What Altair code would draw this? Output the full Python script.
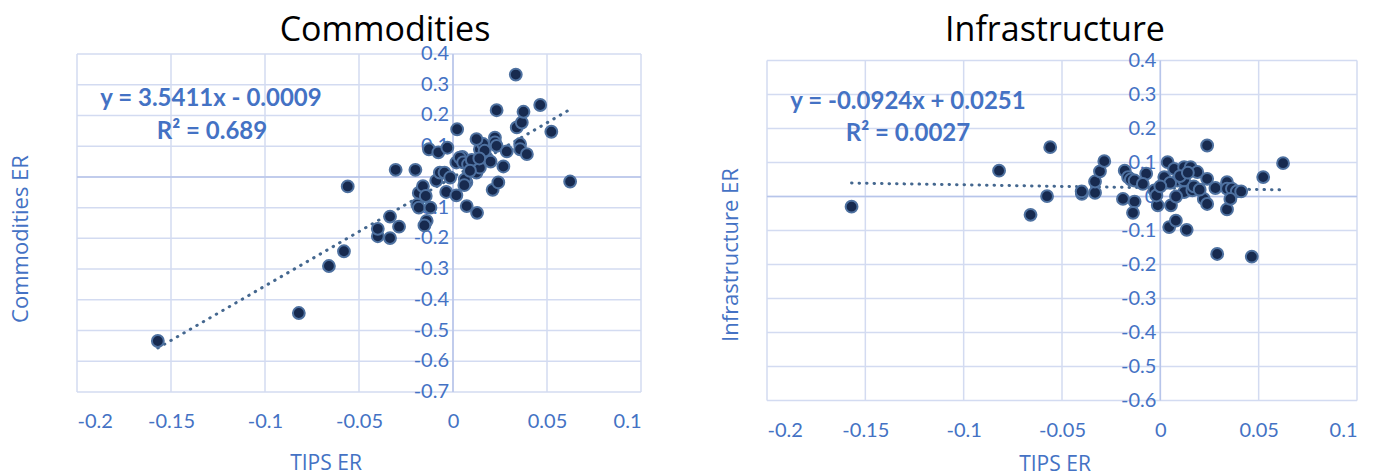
import altair as alt
import pandas as pd

# ---------------- data ----------------
comm_x = [-0.157, -0.082, -0.066, -0.058, -0.056, -0.040, -0.040, -0.0335, -0.0335, -0.0287,
          -0.0305, -0.0200, -0.0182, -0.0160, -0.0145, -0.0190, -0.0182, -0.0120, -0.0140, -0.0152,
          -0.0128, -0.0078, -0.0030, -0.0089, -0.0070, -0.0045, -0.0036, -0.0015, 0.0018, 0.0022,
          0.0073, 0.0128, 0.0071, 0.0063, 0.0060, 0.0050, 0.0018, 0.0036, 0.0054, 0.0080,
          0.0116, 0.0125, 0.0143, 0.0143, 0.0160, 0.0125, 0.0179, 0.0168, 0.0223, 0.0223,
          0.0232, 0.0232, 0.0211, 0.0241, 0.0268, 0.0286, 0.0334, 0.0339, 0.0366, 0.0375,
          0.0357, 0.0357, 0.0393, 0.0464, 0.0523, 0.0623, 0.0100, 0.0140, 0.0090, 0.0200]
comm_y = [-0.534, -0.443, -0.290, -0.242, -0.031, -0.193, -0.169, -0.199, -0.129, -0.162,
          0.023, 0.023, -0.052, -0.030, -0.062, -0.090, -0.100, -0.100, -0.143, -0.158,
          0.090, 0.080, 0.095, -0.012, 0.014, 0.014, -0.049, -0.002, -0.060, 0.155,
          -0.095, -0.117, -0.018, -0.008, -0.027, 0.065, 0.047, 0.063, 0.047, 0.041,
          0.047, 0.014, 0.030, 0.090, 0.107, 0.123, 0.063, 0.085, 0.128, 0.112,
          0.101, 0.217, -0.042, -0.018, 0.034, 0.083, 0.333, 0.161, 0.177, 0.212,
          0.107, 0.090, 0.074, 0.234, 0.147, -0.015, 0.055, 0.060, 0.020, 0.050]

infra_x = [-0.157, -0.082, -0.056, -0.0576, -0.066, -0.0399, -0.0400, -0.0332, -0.0332, -0.0307,
           -0.0285, -0.0181, -0.0164, -0.0150, -0.0131, -0.0072, -0.0089, -0.0190, -0.0131, -0.0139,
           -0.0013, -0.0030, -0.0020, 0.0020, 0.0037, 0.0054, 0.0070, 0.0045, 0.0079, 0.0134,
           0.0087, 0.0121, 0.0154, 0.0121, 0.0121, 0.0163, 0.0188, 0.0238, 0.0238, 0.0221,
           0.0238, 0.0280, 0.0339, 0.0339, 0.0339, 0.0364, 0.0389, 0.0411, 0.0356, 0.0523,
           0.0624, 0.0289, 0.0465, 0.0050, 0.0100, 0.0140, 0.0170, 0.0080, 0.0000, 0.0200]
infra_y = [-0.030, 0.076, 0.145, 0.001, -0.054, 0.008, 0.015, 0.011, 0.044, 0.074,
           0.104, 0.076, 0.057, 0.050, 0.047, 0.067, 0.037, -0.007, -0.015, -0.048,
           -0.026, 0.018, 0.003, 0.057, 0.101, -0.026, 0.081, -0.090, -0.071, -0.098,
           0.047, 0.086, 0.086, 0.047, 0.013, 0.018, 0.072, 0.150, 0.052, -0.007,
           -0.022, 0.025, 0.042, 0.023, -0.038, 0.023, 0.015, 0.015, -0.007, 0.057,
           0.098, -0.169, -0.177, 0.040, 0.060, 0.070, 0.030, 0.000, 0.030, 0.020]

# trend lines (from the printed regression equations)
comm_trend_x = [-0.157, 0.062]
comm_trend_y = [-0.5569, 0.2187]
infra_trend_x = [-0.157, 0.062]
infra_trend_y = [0.0396, 0.0194]

x_ticks = [-0.2, -0.15, -0.1, -0.05, 0.0, 0.05, 0.1]
comm_y_ticks = [0.4, 0.3, 0.2, 0.1, 0.0, -0.1, -0.2, -0.3, -0.4, -0.5, -0.6, -0.7]
comm_y_labels = ["0.4", "0.3", "0.2", "0.1", "0", "-0.1", "-0.2", "-0.3", "-0.4", "-0.5", "-0.6", "-0.7"]
infra_y_ticks = [0.4, 0.3, 0.2, 0.1, 0.0, -0.1, -0.2, -0.3, -0.4, -0.5, -0.6]
infra_y_labels = ["0.4", "0.3", "0.2", "0.1", "0", "-0.1", "-0.2", "-0.3", "-0.4", "-0.5", "-0.6"]

# ---------------- style ----------------
BLUE = "#4472C4"
GRID = "#D3DBF1"
ZERO = "#B7C5EA"
FILL = "#172A4F"
EDGE = "#4E71A0"
TREND = "#44678F"
FONT = "Lato"

LABEL_EXPR = ("datum.value < 0 ? '-' + format(abs(datum.value), '~g') : "
              "(datum.value == 0 ? '0' : format(datum.value, '~g'))")


def panel(xs, ys, tx, ty, yticks, ylabels, ydom, yrange, W, H, title, ytitle, eq1, eq2, pos):
    xdom = [-0.2, 0.1]
    xscale = alt.Scale(domain=xdom, nice=False, zero=False)
    yscale = alt.Scale(domain=ydom, nice=False, zero=False, range=yrange)
    xaxis = alt.Axis(values=x_ticks, labelExpr=LABEL_EXPR, grid=False, domain=False,
                     ticks=False, labelFont=FONT, labelFontSize=20, labelColor=BLUE,
                     labelPadding=19, labelOverlap=False, title=None)
    yaxis = alt.Axis(values=yticks, labels=False, grid=False, domain=False,
                     ticks=False, title=None)

    X = alt.X("x:Q", scale=xscale, axis=xaxis, title=None)
    Y = alt.Y("y:Q", scale=yscale, axis=yaxis, title=None)

    pts = pd.DataFrame({"x": xs, "y": ys})
    trend = pd.DataFrame({"x": tx, "y": ty})
    hgrid = pd.DataFrame({"y": yticks, "lab": ylabels})
    vgrid = pd.DataFrame({"x": x_ticks})

    hg = alt.Chart(hgrid).mark_rule(color=GRID, strokeWidth=1.5).encode(
        y=Y, x=alt.datum(xdom[0]), x2=alt.datum(xdom[1]))
    vg = alt.Chart(vgrid).mark_rule(color=GRID, strokeWidth=1.5).encode(
        x=X, y=alt.datum(ydom[0]), y2=alt.datum(ydom[1]))
    z1 = alt.Chart(pd.DataFrame({"y": [0.0]})).mark_rule(color=ZERO, strokeWidth=1.5).encode(
        y=Y, x=alt.datum(xdom[0]), x2=alt.datum(xdom[1]))
    z2 = alt.Chart(pd.DataFrame({"x": [0.0]})).mark_rule(color=ZERO, strokeWidth=1.5).encode(
        x=X, y=alt.datum(ydom[0]), y2=alt.datum(ydom[1]))
    ylab = alt.Chart(hgrid).mark_text(font=FONT, fontSize=20, color=BLUE, align="right",
                                      baseline="middle").encode(
        y=Y, x=alt.value((2.0 / 3.0) * W - 4), text="lab:N")

    dots = alt.Chart(pts).mark_point(filled=True, shape="circle", size=140, fill=FILL,
                                     stroke=EDGE, strokeWidth=2, opacity=1).encode(x=X, y=Y)
    line = alt.Chart(trend).mark_line(color=TREND, strokeWidth=3, strokeDash=[0.5, 7],
                                      strokeCap="round").encode(x=X, y=Y)

    def txt(t, px, py, size, color, weight="normal", angle=0):
        return alt.Chart(pd.DataFrame({"t": [t]})).mark_text(
            font=FONT if weight == "bold" else "Open Sans", fontSize=size, color=color,
            fontWeight=weight, angle=angle, align="center", baseline="middle").encode(
            text="t:N", x=alt.value(px), y=alt.value(py))

    p = pos
    texts = [
        txt(title, p["title"][0], p["title"][1], 34, "#000000"),
        txt(ytitle, p["ytitle"][0], p["ytitle"][1], 22, BLUE, angle=270),
        txt("TIPS ER", p["xtitle"][0], p["xtitle"][1], 21, BLUE),
        txt(eq1, p["eq1"][0], p["eq1"][1], 24, BLUE, weight="bold"),
        txt(eq2, p["eq2"][0], p["eq2"][1], 24, BLUE, weight="bold"),
    ]
    return alt.layer(vg, hg, z1, z2, ylab, line, dots, *texts).properties(width=W, height=H)


left = panel(comm_x, comm_y, comm_trend_x, comm_trend_y, comm_y_ticks, comm_y_labels,
             [-0.7, 0.4], [338, 0], 564, 338, "Commodities", "Commodities ER",
             "y = 3.5411x - 0.0009", "R\u00b2 = 0.689",
             {"title": (308, -23), "ytitle": (-56, 185), "xtitle": (249, 410),
              "eq1": (134, 45), "eq2": (135, 78)})

right = panel(infra_x, infra_y, infra_trend_x, infra_trend_y, infra_y_ticks, infra_y_labels,
              [-0.6, 0.4], [346.5, 6.5], 590, 347, "Infrastructure", "Infrastructure ER",
              "y = -0.0924x + 0.0251", "R\u00b2 = 0.0027",
              {"title": (288, -23), "ytitle": (-36, 201), "xtitle": (288, 411),
               "eq1": (141, 48), "eq2": (141, 80)})

chart = alt.hconcat(left, right, spacing=78).properties(
    padding={"left": 2, "top": 6, "right": 0, "bottom": 4},
    background="white",
).configure_view(stroke=None)

chart.save("out.html", embed_options={"renderer": "svg", "actions": False})
